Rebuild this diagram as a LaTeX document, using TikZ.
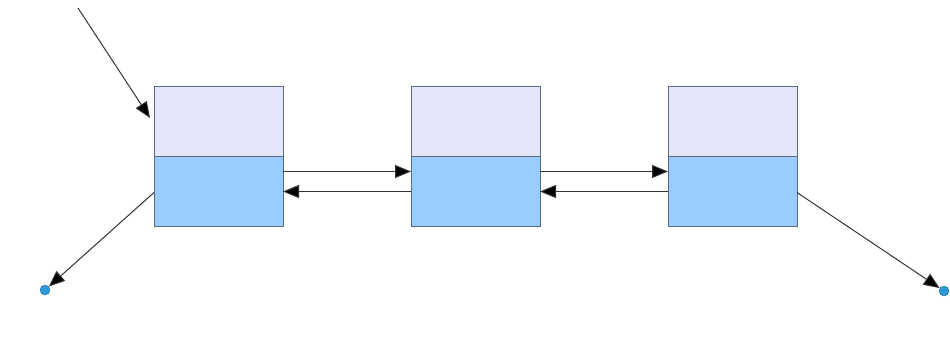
\documentclass[tikz,border=0pt]{standalone}
\usetikzlibrary{arrows.meta}
\definecolor{toppart}{HTML}{E6E6FA}
\definecolor{botpart}{HTML}{99CCFF}
\definecolor{dotblue}{HTML}{2E9AD6}
\definecolor{edge}{HTML}{5A6A80}
\begin{document}
\begin{tikzpicture}[x=1pt,y=-1pt,
  cell/.style={draw=edge,line width=1pt,minimum width=129pt,minimum height=70pt,inner sep=0pt,outer sep=0pt},
  upper/.style={cell,fill=toppart},
  lower/.style={cell,fill=botpart},
  link/.style={draw=black!80,line width=1pt,-{Triangle[length=16pt,width=13pt,fill=black]}},
  endpt/.style={circle,fill=dotblue,draw=dotblue!70!black,line width=0.4pt,minimum size=10pt,inner sep=0pt}]
\useasboundingbox (0,0) rectangle (950,338);
\node[upper] (t1) at (218.5,121.5) {};
\node[lower] (b1) at (218.5,191.5) {};
\node[upper] (t2) at (475.5,121.5) {};
\node[lower] (b2) at (475.5,191.5) {};
\node[upper] (t3) at (732.5,121.5) {};
\node[lower] (b3) at (732.5,191.5) {};
\coordinate (start) at (78,8);
\node[endpt] (d1) at (45,290) {};
\node[endpt] (d2) at (944,291) {};
\draw[link] (start) -- (150,118);
\draw[link] ([yshift=20pt]b1.east) -- ([yshift=20pt]b2.west);
\draw[link] ([yshift=0pt]b2.west) -- ([yshift=0pt]b1.east);
\draw[link] ([yshift=20pt]b2.east) -- ([yshift=20pt]b3.west);
\draw[link] ([yshift=0pt]b3.west) -- ([yshift=0pt]b2.east);
\draw[link] ([yshift=-1pt]b1.west) -- (d1);
\draw[link] ([yshift=-1pt]b3.east) -- (d2);
\end{tikzpicture}
\end{document}
